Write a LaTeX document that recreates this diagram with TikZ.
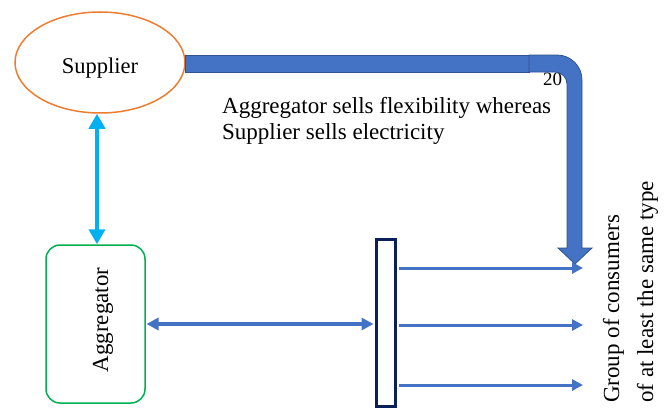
\documentclass[tikz,border=0pt]{standalone}
\usepackage{fontspec}
\setmainfont{Liberation Serif}
\usetikzlibrary{arrows.meta,shapes.geometric}
\definecolor{supor}{HTML}{ED7D31}
\definecolor{aggreen}{HTML}{00B050}
\definecolor{acc}{HTML}{4472C4}
\definecolor{accdark}{HTML}{2F528F}
\definecolor{cyanA}{HTML}{00B0F0}
\definecolor{navyA}{HTML}{0B1F5C}
\begin{document}
\begin{tikzpicture}[x=1pt,y=-1pt,
  txt/.style={font=\fontsize{23}{26}\selectfont, inner sep=0pt, text=black},
  flowline/.style={acc, line width=3pt, -{Triangle[length=11pt,width=11pt]}},
  bigarrow/.style={fill=acc, draw=accdark, line width=0.8pt}]
\useasboundingbox (0,0) rectangle (668,412);
\fill[white] (0,0) rectangle (668,412);

% nodes
\node[ellipse, draw=supor, line width=1.5pt, minimum width=170pt, minimum height=101pt, inner sep=0pt] (sup) at (100,62.5) {};
\node[txt, anchor=base, font=\fontsize{22.5}{26}\selectfont] (suptxt) at (100,73) {Supplier};

\node[draw=aggreen, line width=1.5pt, rounded corners=14pt, minimum width=99pt, minimum height=158pt, inner sep=0pt] (agg) at (95.5,324) {};
\node[txt, rotate=90, anchor=base] (aggtxt) at (108,320) {Aggregator};

\node[draw=navyA, line width=3pt, minimum width=19pt, minimum height=167pt, inner sep=0pt] (bar) at (386,323) {};

\node[txt, anchor=base west] (note1) at (222,113) {Aggregator sells flexibility whereas};
\node[txt, anchor=base west] (note2) at (222,139) {Supplier sells electricity};

\node[txt, rotate=90, anchor=base west] (grp1) at (619,403) {Group of consumers};
\node[txt, rotate=90, anchor=base west] (grp2) at (653,403) {of at least the same type};

\node[txt, anchor=base west, font=\fontsize{19}{22}\selectfont] (num) at (543,85) {20};

% thick supply arrow
\filldraw[bigarrow] (sup.east |- 0,55) rectangle (529,72);
\filldraw[bigarrow] (529,55) -- (557,55) .. controls (570.8,55) and (582,66.2) .. (582,80)
  -- (582,248) -- (592,248) -- (575,264) -- (558,248) -- (567,248)
  -- (567,84) .. controls (567,77.4) and (561.6,72) .. (555,72) -- (529,72) -- cycle;

% cyan double arrow
\coordinate (cx) at (97,0);
\draw[cyanA, line width=4.5pt, {Triangle[length=15pt,width=16pt]}-{Triangle[length=15pt,width=16pt]}]
  (sup.south -| cx) -- (agg.north -| cx);

% aggregator <-> bar
\draw[acc, line width=3.5pt, {Triangle[length=12pt,width=12pt]}-{Triangle[length=12pt,width=12pt]}, shorten >=1.5pt, shorten <=0.75pt]
  (agg.east) -- (agg.east -| bar.west);

% outputs
\coordinate (o1) at (583,268);
\coordinate (o2) at (583,325);
\coordinate (o3) at (583,385);
\draw[flowline, shorten <=1.5pt] (bar.east |- o1) -- (o1);
\draw[flowline, shorten <=1.5pt] (bar.east |- o2) -- (o2);
\draw[flowline, shorten <=1.5pt] (bar.east |- o3) -- (o3);
\end{tikzpicture}
\end{document}
